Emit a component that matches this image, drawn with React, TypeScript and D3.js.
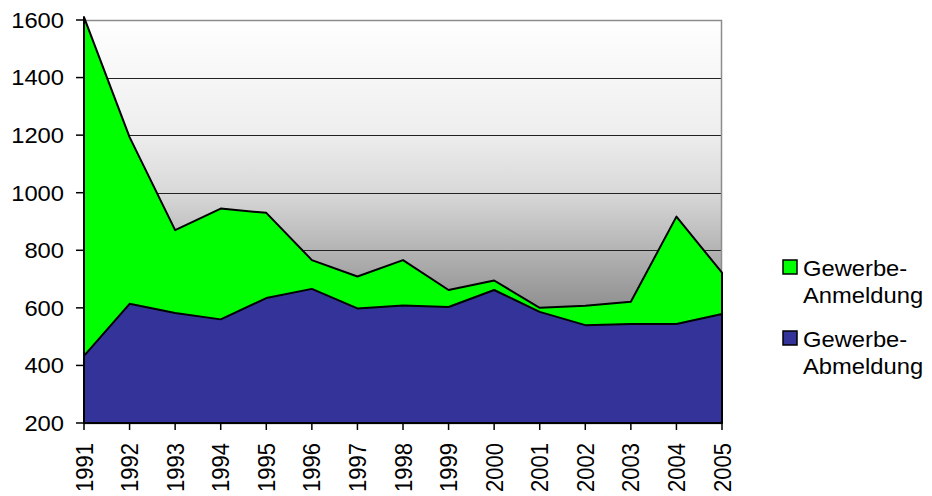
import React from 'react';
import * as d3 from 'd3';

// Jahre und Werte
const years = ['1991', '1992', '1993', '1994', '1995', '1996', '1997', '1998', '1999', '2000', '2001', '2002', '2003', '2004', '2005'];
const anmeldung = [1610, 1193, 870, 945, 930, 766, 709, 766, 662, 695, 600, 607, 621, 917, 722];
const abmeldung = [433, 614, 582, 560, 634, 666, 598, 608, 603, 662, 586, 540, 544, 544, 579];
const yTicks = [200, 400, 600, 800, 1000, 1200, 1400, 1600];

const seriesList = [
    { name: ['Gewerbe-', 'Anmeldung'], values: anmeldung, color: '#00ff00' },
    { name: ['Gewerbe-', 'Abmeldung'], values: abmeldung, color: '#333399' },
];

const W = 932;
const H = 496;
const margin = { top: 20, right: 210, bottom: 73, left: 84 };
const font = '"Liberation Sans", Arial, sans-serif';
// the original picture is a bit wider than tall, so text is stretched sideways
const stretch = 1.08;

const App = () => {
    const x = d3.scalePoint<string>()
        .domain(years)
        .range([margin.left, W - margin.right]);

    const y = d3.scaleLinear()
        .domain([200, 1600])
        .range([H - margin.bottom, margin.top]);

    const area = d3.area<number>()
        .x((d, i) => x(years[i]) as number)
        .y0(y(200))
        .y1(d => y(d));

    const x0 = margin.left;
    const x1 = W - margin.right;
    const yTop = margin.top;
    const yBot = H - margin.bottom;

    return (
        <svg width={W} height={H} style={{ position: 'absolute', left: 0, top: 0, background: '#fff' }}>
            <defs>
                <linearGradient id="bg" x1="0" y1="0" x2="0" y2="1">
                    <stop offset="0%" stopColor="#ffffff" />
                    <stop offset="28%" stopColor="#eeeeee" />
                    <stop offset="43%" stopColor="#d8d8d8" />
                    <stop offset="57%" stopColor="#b4b4b4" />
                    <stop offset="70%" stopColor="#939393" />
                    <stop offset="100%" stopColor="#666666" />
                </linearGradient>
            </defs>

            {/* Plot-Hintergrund */}
            <rect x={x0} y={yTop} width={x1 - x0} height={yBot - yTop} fill="url(#bg)" />

            {/* Gitterlinien */}
            {yTicks.filter(t => t > 200 && t < 1600).map(t => (
                <line key={t} x1={x0} x2={x1} y1={Math.round(y(t)) + 0.5} y2={Math.round(y(t)) + 0.5}
                    stroke="#222" strokeWidth={1} />
            ))}
            <rect x={x0 + 0.5} y={yTop + 0.5} width={x1 - x0 - 1} height={yBot - yTop}
                fill="none" stroke="#8c8c8c" strokeWidth={1.5} />

            {/* Flächen */}
            {seriesList.map(s => (
                <path key={s.name[1]} d={area(s.values) as string} fill={s.color}
                    stroke="#000" strokeWidth={2} strokeLinejoin="round" />
            ))}

            {/* Achsen */}
            <line x1={x0} x2={x0} y1={yTop - 2} y2={yBot} stroke="#000" strokeWidth={2} />
            <line x1={x0} x2={x1 + 1} y1={yBot} y2={yBot} stroke="#000" strokeWidth={2} />

            {yTicks.map(t => (
                <g key={t}>
                    <line x1={x0 - 8} x2={x0} y1={y(t)} y2={y(t)} stroke="#000" strokeWidth={1.5} />
                    <text transform={`translate(64,${y(t)}) scale(${stretch},1)`} dy="0.36em" textAnchor="end"
                        fontFamily={font} fontSize={22} fill="#000">{t}</text>
                </g>
            ))}

            {years.map(yr => (
                <g key={yr}>
                    <line x1={x(yr)} x2={x(yr)} y1={yBot} y2={yBot + 7} stroke="#000" strokeWidth={1.5} />
                    <text transform={`translate(${(x(yr) as number)},443) scale(${stretch},1) rotate(-90)`} dy="0.36em"
                        textAnchor="end" fontFamily={font} fontSize={22} fill="#000">{yr}</text>
                </g>
            ))}

            {/* Legende */}
            {seriesList.map((s, i) => {
                const ly = 260 + i * 71;
                return (
                    <g key={s.name[1]}>
                        <rect x={783} y={ly} width={14} height={14} fill={s.color} stroke="#000" strokeWidth={1.5} />
                        <g transform={`translate(803,${ly}) scale(${stretch},1)`}>
                            <text y={16} fontFamily={font} fontSize={22} fill="#000">{s.name[0]}</text>
                            <text y={43} fontFamily={font} fontSize={22} fill="#000">{s.name[1]}</text>
                        </g>
                    </g>
                );
            })}
        </svg>
    );
};

export default App;
